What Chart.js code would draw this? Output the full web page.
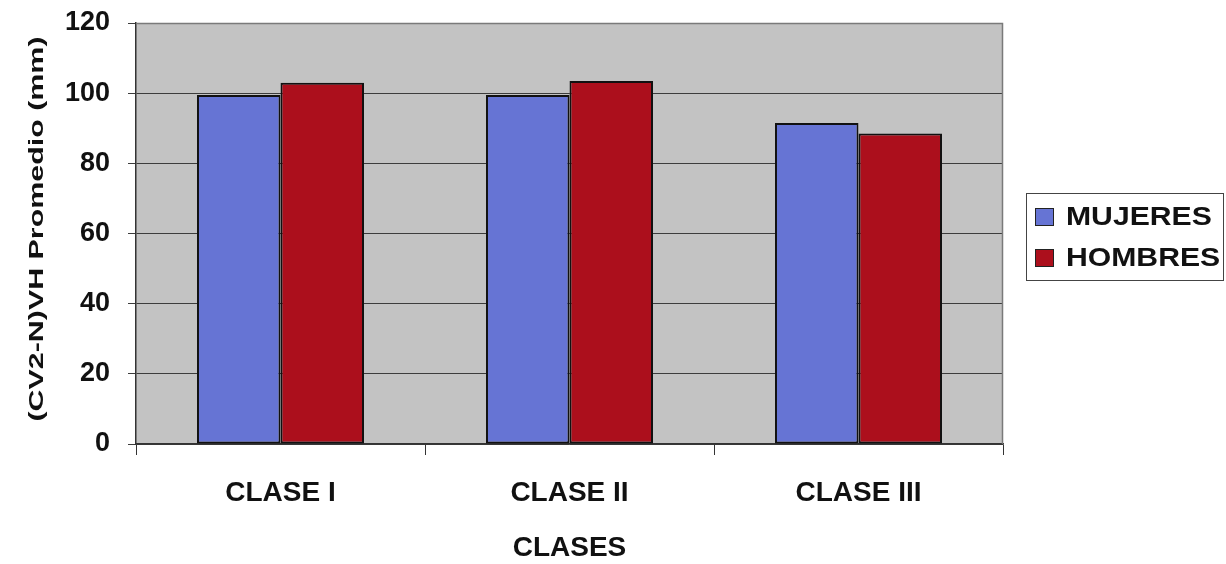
<!DOCTYPE html>
<html>
<head>
<meta charset="utf-8">
<script src="https://cdn.jsdelivr.net/npm/chart.js@4/dist/chart.umd.min.js"></script>
<style>
  html, body { margin: 0; padding: 0; background: #ffffff; }
  #wrap { width: 1226px; height: 564px; }
</style>
</head>
<body>
<div id="wrap"><canvas id="c" width="1226" height="564"></canvas></div>
<script>
// Average (CV2-N)VH by skeletal class and sex
const categories = ['CLASE I', 'CLASE II', 'CLASE III'];
const mujeres = [99.5, 99.5, 91.5];
const hombres = [103, 103.5, 88.5];
const seriesNames = ['MUJERES', 'HOMBRES'];
const yTicks = [0, 20, 40, 60, 80, 100, 120];
const yTitle = '(CV2-N)VH Promedio (mm)';
const xTitle = 'CLASES';

const FONT = '"Liberation Sans", Arial, sans-serif';
const BLUE = '#6674d4';
const RED = '#ac0f1c';

// Grey plot backdrop and frame
const plotFrame = {
  id: 'plotFrame',
  beforeDraw(chart) {
    const { ctx, chartArea: a } = chart;
    ctx.save();
    ctx.fillStyle = '#c3c3c3';
    ctx.fillRect(a.left, a.top, a.right - a.left, a.bottom - a.top);
    ctx.restore();
  },
  afterDatasetsDraw(chart) {
    const { ctx, chartArea: a } = chart;
    ctx.save();
    ctx.strokeStyle = '#7a7a7a';
    ctx.lineWidth = 1.5;
    ctx.beginPath();
    ctx.moveTo(a.left, a.top + 0.5);
    ctx.lineTo(a.right - 0.5, a.top + 0.5);
    ctx.lineTo(a.right - 0.5, a.bottom);
    ctx.stroke();
    ctx.restore();
  }
};

// Vertical axis title, drawn wide-set like the original sheet
const yAxisTitle = {
  id: 'yAxisTitle',
  afterDraw(chart) {
    const { ctx } = chart;
    ctx.save();
    ctx.font = 'bold 21px ' + FONT;
    ctx.fillStyle = '#111';
    ctx.textAlign = 'center';
    ctx.textBaseline = 'middle';
    const w = ctx.measureText(yTitle).width;
    const sx = 385 / w;
    ctx.translate(37, 229);
    ctx.rotate(-Math.PI / 2);
    ctx.scale(sx, 1);
    ctx.fillText(yTitle, 0, 0);
    ctx.restore();
  }
};

// Boxed legend on the right
const boxLegend = {
  id: 'boxLegend',
  afterDraw(chart) {
    const { ctx } = chart;
    const box = { x: 1026, y: 193, w: 197, h: 87 };
    ctx.save();
    ctx.fillStyle = '#ffffff';
    ctx.fillRect(box.x, box.y, box.w, box.h);
    ctx.strokeStyle = '#444';
    ctx.lineWidth = 1;
    ctx.strokeRect(box.x + 0.5, box.y + 0.5, box.w, box.h);
    chart.data.datasets.forEach((ds, i) => {
      const cy = 217 + i * 41;
      ctx.fillStyle = ds.backgroundColor;
      ctx.fillRect(1035, cy - 9, 19, 18);
      ctx.strokeStyle = '#222';
      ctx.lineWidth = 1;
      ctx.strokeRect(1035.5, cy - 8.5, 18, 17);
      ctx.save();
      ctx.font = 'bold 26px ' + FONT;
      ctx.fillStyle = '#111';
      ctx.textAlign = 'left';
      ctx.textBaseline = 'middle';
      ctx.translate(1066, cy + 1);
      ctx.scale(1.16, 1);
      ctx.fillText(ds.label, 0, 0);
      ctx.restore();
    });
    ctx.restore();
  }
};

new Chart(document.getElementById('c'), {
  type: 'bar',
  data: {
    labels: categories,
    datasets: [
      { label: seriesNames[0], data: mujeres, backgroundColor: BLUE },
      { label: seriesNames[1], data: hombres, backgroundColor: RED }
    ]
  },
  options: {
    responsive: false,
    animation: false,
    devicePixelRatio: 1,
    layout: { padding: { left: 0, right: 223, top: 23, bottom: 0 } },
    datasets: {
      bar: {
        categoryPercentage: 0.578,
        barPercentage: 1.0,
        borderColor: '#111111',
        borderWidth: 2,
        borderSkipped: false
      }
    },
    plugins: {
      legend: { display: false },
      tooltip: { enabled: false },
      title: { display: false }
    },
    scales: {
      x: {
        afterFit(s) { s.height = 120; s.paddingLeft = 0; s.paddingRight = 0; },
        grid: {
          offset: true,
          drawOnChartArea: false,
          drawTicks: true,
          tickLength: 11,
          color: '#333',
          lineWidth: 1
        },
        border: { display: true, color: '#333', width: 1.5 },
        ticks: {
          padding: 21,
          color: '#111',
          font: { family: FONT, size: 28, weight: 'bold' }
        },
        title: {
          display: true,
          text: xTitle,
          color: '#111',
          padding: { top: 0, bottom: 0 },
          font: { family: FONT, size: 28, weight: 'bold', lineHeight: 1.1 }
        }
      },
      y: {
        min: 0,
        max: 120,
        afterFit(s) { s.width = 136; s.paddingTop = 0; s.paddingBottom = 0; },
        afterBuildTicks(s) { s.ticks = yTicks.map(v => ({ value: v })); },
        grid: {
          drawTicks: true,
          tickLength: 8,
          color: '#3c3c3c',
          lineWidth: 1
        },
        border: { display: true, color: '#333', width: 1.5 },
        ticks: {
          padding: 18,
          color: '#111',
          font: { family: FONT, size: 27, weight: 'bold' }
        },
        title: { display: false }
      }
    }
  },
  plugins: [plotFrame, yAxisTitle, boxLegend]
});
</script>
</body>
</html>
